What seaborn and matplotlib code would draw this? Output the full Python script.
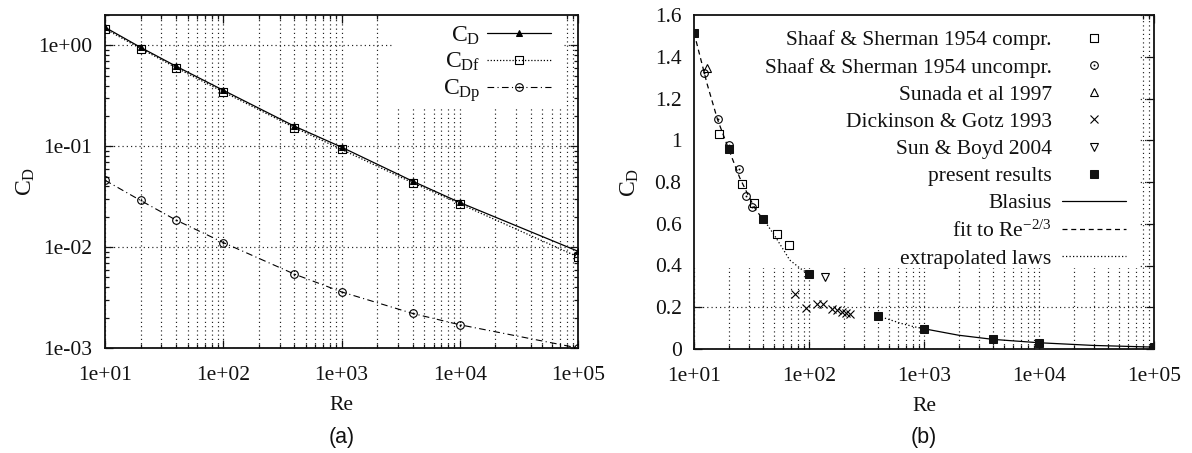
import numpy as np
import pandas as pd
import matplotlib
matplotlib.use("Agg")
import matplotlib.pyplot as plt
import seaborn as sns
from matplotlib.path import Path
from matplotlib.patches import Rectangle
from matplotlib.ticker import LogLocator, NullFormatter

# ---------------- data ----------------
re_a = [10, 20, 40, 100, 400, 1000, 4000, 10000, 100000]
cd_a = [1.51, 0.955, 0.62, 0.359, 0.158, 0.098, 0.045, 0.0277, 0.0091]
cdf_a = [1.46, 0.93, 0.60, 0.346, 0.153, 0.093, 0.0434, 0.0269, 0.0080]
cdp_a = [0.046, 0.029, 0.0185, 0.0111, 0.0054, 0.0036, 0.0022, 0.0017, 0.0010]

ss_comp_re = [16.6, 26.3, 33.3, 52.7, 66.5]
ss_comp_cd = [1.03, 0.79, 0.70, 0.55, 0.50]
ss_unc_re = [12.1, 16.2, 20.1, 24.6, 28.2, 31.8]
ss_unc_cd = [1.32, 1.10, 0.977, 0.862, 0.734, 0.68]
sunada_re = [13.1]
sunada_cd = [1.345]
dick_re = [76, 95, 117, 133, 157, 174, 192, 209, 227]
dick_cd = [0.265, 0.195, 0.215, 0.215, 0.19, 0.187, 0.179, 0.171, 0.168]
boyd_re = [138]
boyd_cd = [0.345]
present_re = [10, 20, 40, 100, 400, 1000, 4000, 10000, 100000]
present_cd = [1.515, 0.958, 0.623, 0.359, 0.158, 0.097, 0.046, 0.030, 0.008]
blasius_re = [1000, 2000, 4000, 10000, 30000, 100000]
blasius_cd = [0.097, 0.066, 0.046, 0.030, 0.017, 0.009]
fit_re = [10, 13, 16, 20, 25, 30, 35, 40]
fit_cd = [1.515, 1.27, 1.10, 0.958, 0.82, 0.73, 0.66, 0.623]
extrap1_re = [40, 50, 60, 68, 84, 100]
extrap1_cd = [0.623, 0.545, 0.475, 0.426, 0.386, 0.359]
extrap2_re = [400, 630, 800, 1000]
extrap2_cd = [0.158, 0.123, 0.108, 0.097]

xtick_vals = [10, 100, 1000, 10000, 100000]
xtick_labels = ["1e+01", "1e+02", "1e+03", "1e+04", "1e+05"]
ytick_a_vals = [0.001, 0.01, 0.1, 1.0]
ytick_a_labels = ["1e-03", "1e-02", "1e-01", "1e+00"]
ytick_b_vals = [0, 0.2, 0.4, 0.6, 0.8, 1.0, 1.2, 1.4, 1.6]
ytick_b_labels = ["0", "0.2", "0.4", "0.6", "0.8", "1", "1.2", "1.4", "1.6"]

# ---------------- style ----------------
sns.set_theme(style="ticks")
plt.rcParams["font.family"] = ["Liberation Serif", "DejaVu Serif"]
plt.rcParams["mathtext.fontset"] = "custom"
plt.rcParams["mathtext.rm"] = "Liberation Serif"
plt.rcParams["mathtext.it"] = "Liberation Serif:italic"
plt.rcParams["mathtext.bf"] = "Liberation Serif:bold"
plt.rcParams["text.color"] = "#111111"
plt.rcParams["axes.labelcolor"] = "#111111"
plt.rcParams["xtick.color"] = "#111111"
plt.rcParams["ytick.color"] = "#111111"

FS = 15.5


def dotted_marker(base):
    dot = Path([(-0.09, -0.09), (0.09, -0.09), (0.09, 0.09), (-0.09, 0.09), (-0.09, -0.09)],
               [Path.MOVETO, Path.LINETO, Path.LINETO, Path.LINETO, Path.CLOSEPOLY])
    return Path.make_compound_path(base, dot)


sq = Path([(-1, -1), (1, -1), (1, 1), (-1, 1), (-1, -1)],
          [Path.MOVETO, Path.LINETO, Path.LINETO, Path.LINETO, Path.CLOSEPOLY])
circ = Path.unit_circle()
sq_dot = dotted_marker(sq)
circ_dot = dotted_marker(circ)

fig = plt.figure(figsize=(11.92, 4.53), dpi=100)
ax1 = fig.add_axes([105 / 1192, 1 - 348 / 453, 473 / 1192, 333 / 453])
ax2 = fig.add_axes([694 / 1192, 1 - 349 / 453, 460 / 1192, 334 / 453])

grid_kw = dict(ls=(0, (1, 2.6)), color="#222222", lw=0.85)


def style_axes(ax):
    ax.set_axisbelow(True)
    ax.set_xscale("log")
    ax.set_xlim(10, 1e5)
    ax.set_xticks(xtick_vals, xtick_labels)
    ax.xaxis.set_minor_locator(LogLocator(base=10, subs=np.arange(2, 10)))
    ax.xaxis.set_minor_formatter(NullFormatter())
    ax.tick_params(which="both", direction="in", top=True, right=True,
                   labelsize=FS, width=0.9)
    ax.tick_params(which="major", length=6)
    ax.tick_params(which="minor", length=3)
    ax.tick_params(axis="x", which="major", pad=13)
    ax.tick_params(axis="y", which="major", pad=9)
    for s in ax.spines.values():
        s.set_linewidth(1.3)
        s.set_color("#111111")
    ax.grid(True, which="both", axis="x", **grid_kw)
    ax.grid(True, which="major", axis="y", **grid_kw)
    ax.set_xlabel("Re", fontsize=FS, labelpad=8)
    ax.set_ylabel(r"$\mathrm{C_D}$", fontsize=FS + 1.5)


# ---------------- panel (a) ----------------
style_axes(ax1)
ax1.set_yscale("log")
ax1.set_ylim(1e-3, 2.0)
ax1.set_yticks(ytick_a_vals, ytick_a_labels)
ax1.yaxis.set_minor_locator(LogLocator(base=10, subs=np.arange(2, 10)))
ax1.yaxis.set_minor_formatter(NullFormatter())
ax1.yaxis.labelpad = 1
ax1.add_patch(Rectangle((0.609, 0.724), 0.359, 0.276, transform=ax1.transAxes,
                        facecolor="white", edgecolor="none", zorder=1))

df_a = pd.DataFrame({"Re": re_a, "CD": cd_a, "CDf": cdf_a, "CDp": cdp_a})
sns.lineplot(data=df_a, x="Re", y="CD", ax=ax1, color="black", lw=0.9,
             marker="^", markersize=5, markerfacecolor="black", markeredgecolor="black",
             errorbar=None, label=r"$\mathrm{C_D}$", zorder=3)
sns.lineplot(data=df_a, x="Re", y="CDf", ax=ax1, color="black", lw=0.9,
             linestyle=(0, (1, 1.5)), marker=sq_dot, markersize=5.5,
             markerfacecolor="none", markeredgecolor="black", markeredgewidth=0.8,
             errorbar=None, label=r"$\mathrm{C_{Df}}$", zorder=3)
sns.lineplot(data=df_a, x="Re", y="CDp", ax=ax1, color="black", lw=0.8,
             linestyle=(0, (6, 3, 1, 3)), marker=circ_dot, markersize=5.5,
             markerfacecolor="none", markeredgecolor="black", markeredgewidth=0.8,
             errorbar=None, label=r"$\mathrm{C_{Dp}}$", zorder=3)
ax1.legend(loc="upper right", bbox_to_anchor=(0.943, 0.972), frameon=False,
           markerfirst=False, fontsize=FS + 1.5, handlelength=2.7, handletextpad=0.3,
           borderpad=0, borderaxespad=0, labelspacing=0.18, numpoints=1)

# ---------------- panel (b) ----------------
style_axes(ax2)
ax2.set_ylim(0, 1.6)
ax2.set_yticks(ytick_b_vals, ytick_b_labels)
ax2.yaxis.labelpad = 10
ax2.add_patch(Rectangle((0.0, 0.2425), 0.970, 0.7575, transform=ax2.transAxes,
                        facecolor="white", edgecolor="none", zorder=1))

open_kw = dict(markerfacecolor="none", markeredgecolor="black", markeredgewidth=0.8,
               linestyle="none", color="black", errorbar=None, zorder=4)
h_comp = sns.lineplot(x=ss_comp_re, y=ss_comp_cd, ax=ax2, marker=sq_dot, markersize=5.5,
                      **open_kw).lines[-1]
h_unc = sns.lineplot(x=ss_unc_re, y=ss_unc_cd, ax=ax2, marker=circ_dot, markersize=5.5,
                     **open_kw).lines[-1]
h_sun = sns.lineplot(x=sunada_re, y=sunada_cd, ax=ax2, marker="^", markersize=6,
                     **open_kw).lines[-1]
h_dick = sns.lineplot(x=dick_re, y=dick_cd, ax=ax2, marker="x", markersize=6,
                      **open_kw).lines[-1]
h_boyd = sns.lineplot(x=boyd_re, y=boyd_cd, ax=ax2, marker="v", markersize=6,
                      **open_kw).lines[-1]
h_pres = sns.lineplot(x=present_re, y=present_cd, ax=ax2, marker="s", markersize=6,
                      markerfacecolor="#111111", markeredgecolor="#111111",
                      linestyle="none", color="black", errorbar=None, zorder=5).lines[-1]
h_bla = sns.lineplot(x=blasius_re, y=blasius_cd, ax=ax2, color="black", lw=0.9,
                     errorbar=None, zorder=3).lines[-1]
h_fit = sns.lineplot(x=fit_re, y=fit_cd, ax=ax2, color="black", lw=0.9,
                     linestyle=(0, (4, 3)), errorbar=None, zorder=3).lines[-1]
h_ext = sns.lineplot(x=extrap1_re, y=extrap1_cd, ax=ax2, color="black", lw=0.9,
                     linestyle=(0, (1, 1.8)), errorbar=None, zorder=3).lines[-1]
sns.lineplot(x=extrap2_re, y=extrap2_cd, ax=ax2, color="black", lw=0.9,
             linestyle=(0, (1, 1.8)), errorbar=None, zorder=3)

ax2.legend([h_comp, h_unc, h_sun, h_dick, h_boyd, h_pres, h_bla, h_fit, h_ext],
           ["Shaaf & Sherman 1954 compr.", "Shaaf & Sherman 1954 uncompr.",
            "Sunada et al 1997", "Dickinson & Gotz 1993", "Sun & Boyd 2004",
            "present results", "Blasius", r"fit to Re$^{\mathrm{-2/3}}$",
            "extrapolated laws"],
           loc="upper right", bbox_to_anchor=(0.939, 0.954), frameon=False,
           markerfirst=False, fontsize=FS, handlelength=2.95, handletextpad=0.5,
           borderpad=0, borderaxespad=0, labelspacing=0.33, numpoints=1)

fig.text(341.5 / 1192, 1 - 438 / 453, "(a)", ha="center", va="center",
         fontsize=FS, family=["Liberation Sans", "DejaVu Sans"])
fig.text(924 / 1192, 1 - 438 / 453, "(b)", ha="center", va="center",
         fontsize=FS, family=["Liberation Sans", "DejaVu Sans"])

fig.savefig("out.png", dpi=100)
